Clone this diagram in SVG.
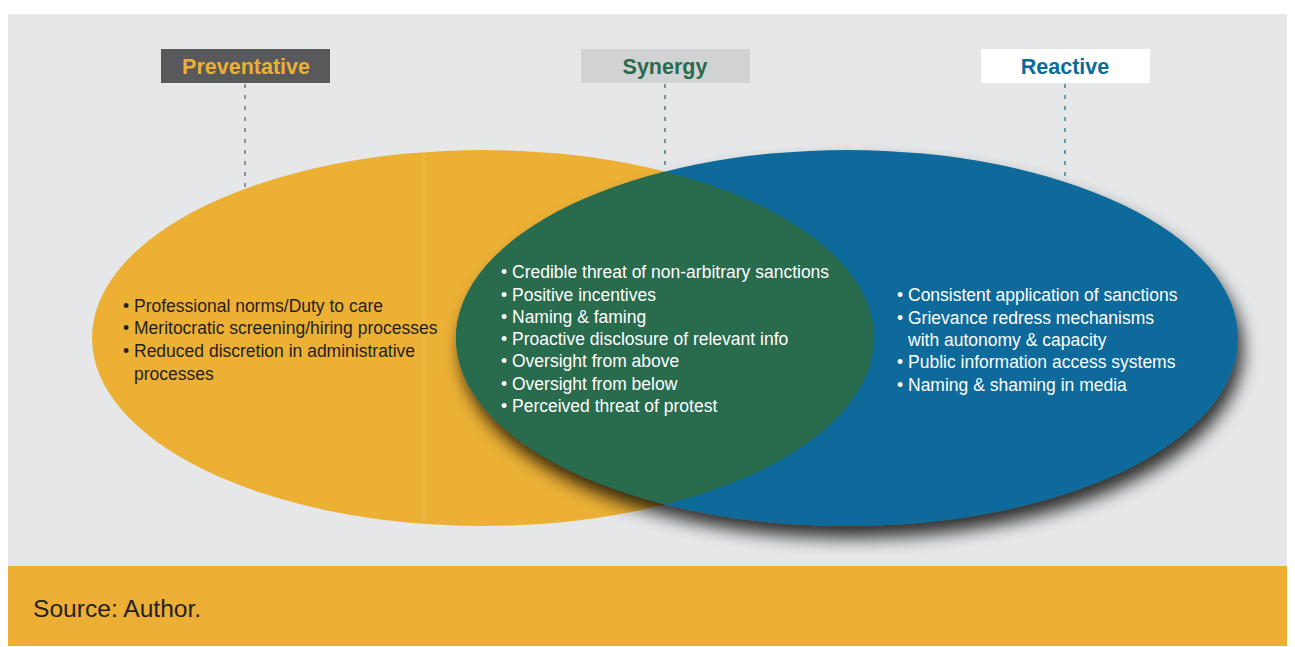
<svg xmlns="http://www.w3.org/2000/svg" width="1295" height="647" viewBox="0 0 1295 647">
  <style>
    .hdr { font-family: "Liberation Sans", Arial, sans-serif; font-weight: bold; font-size: 21.5px; text-anchor: middle; }
    .li { font-family: "Liberation Sans", Arial, sans-serif; font-size: 17.5px; }
    .dark { fill: #231f20; }
    .light { fill: #ffffff; }
    .dash { stroke-width: 1.4; stroke-dasharray: 4 7; fill: none; }
  </style>
  <defs>
    <filter id="shadow" x="-10%" y="-15%" width="125%" height="145%">
      <feGaussianBlur in="SourceAlpha" stdDeviation="8.5"/>
      <feOffset dx="5" dy="12" result="o"/>
      <feComponentTransfer><feFuncA type="linear" slope="0.8"/></feComponentTransfer>
      <feMerge><feMergeNode/><feMergeNode in="SourceGraphic"/></feMerge>
    </filter>
    <clipPath id="clipYellow">
      <ellipse cx="483" cy="338" rx="391" ry="188"/>
    </clipPath>
  </defs>

  <rect x="8" y="14" width="1279" height="552" fill="#e6e7e8"/>
  <rect x="8" y="566" width="1279" height="80" fill="#ecae35"/>
  <text x="33" y="617" font-family="'Liberation Sans', Arial, sans-serif" font-size="24.6" fill="#231f20">Source: Author.</text>

  <g id="connectors">
    <line class="dash" x1="245" y1="84" x2="245" y2="200" stroke="#6d6e71"/>
    <line class="dash" x1="665" y1="84" x2="665" y2="180" stroke="#3d7a60"/>
    <line class="dash" x1="1065" y1="84" x2="1065" y2="190" stroke="#2a7cab"/>
  </g>

  <g id="preventative-circle">
    <ellipse cx="483" cy="338" rx="391" ry="188" fill="#ecb035"/>
    <line x1="424" y1="150" x2="424" y2="527" stroke="#f3c869" stroke-width="1" clip-path="url(#clipYellow)" opacity="0.7"/>
  </g>

  <g id="reactive-circle">
    <ellipse cx="847" cy="338" rx="391" ry="188" fill="#0b6b9b" filter="url(#shadow)"/>
  </g>

  <g id="synergy-lens">
    <ellipse cx="847" cy="338" rx="391" ry="188" fill="#296b4d" clip-path="url(#clipYellow)"/>
  </g>

  <g id="preventative-list" class="li dark">
    <text x="123" y="312">• Professional norms/Duty to care</text>
    <text x="123" y="334">• Meritocratic screening/hiring processes</text>
    <text x="123" y="357">• Reduced discretion in administrative</text>
    <text x="134" y="380">processes</text>
  </g>

  <g id="synergy-list" class="li light">
    <text x="501" y="278">• Credible threat of non-arbitrary sanctions</text>
    <text x="501" y="301">• Positive incentives</text>
    <text x="501" y="323">• Naming &amp; faming</text>
    <text x="501" y="345">• Proactive disclosure of relevant info</text>
    <text x="501" y="367">• Oversight from above</text>
    <text x="501" y="390">• Oversight from below</text>
    <text x="501" y="412">• Perceived threat of protest</text>
  </g>

  <g id="reactive-list" class="li light">
    <text x="897" y="301">• Consistent application of sanctions</text>
    <text x="897" y="324">• Grievance redress mechanisms</text>
    <text x="908" y="346">with autonomy &amp; capacity</text>
    <text x="897" y="368">• Public information access systems</text>
    <text x="897" y="391">• Naming &amp; shaming in media</text>
  </g>

  <g id="preventative">
    <rect x="161" y="49" width="169" height="34" fill="#58595b"/>
    <text class="hdr" x="246" y="74" fill="#ecb035">Preventative</text>
  </g>
  <g id="synergy">
    <rect x="581" y="49" width="169" height="34" fill="#d1d2d4"/>
    <text class="hdr" x="665" y="74" fill="#2a6b4c">Synergy</text>
  </g>
  <g id="reactive">
    <rect x="981" y="49" width="169" height="34" fill="#ffffff"/>
    <text class="hdr" x="1065" y="74" fill="#0b6b9c">Reactive</text>
  </g>
</svg>
